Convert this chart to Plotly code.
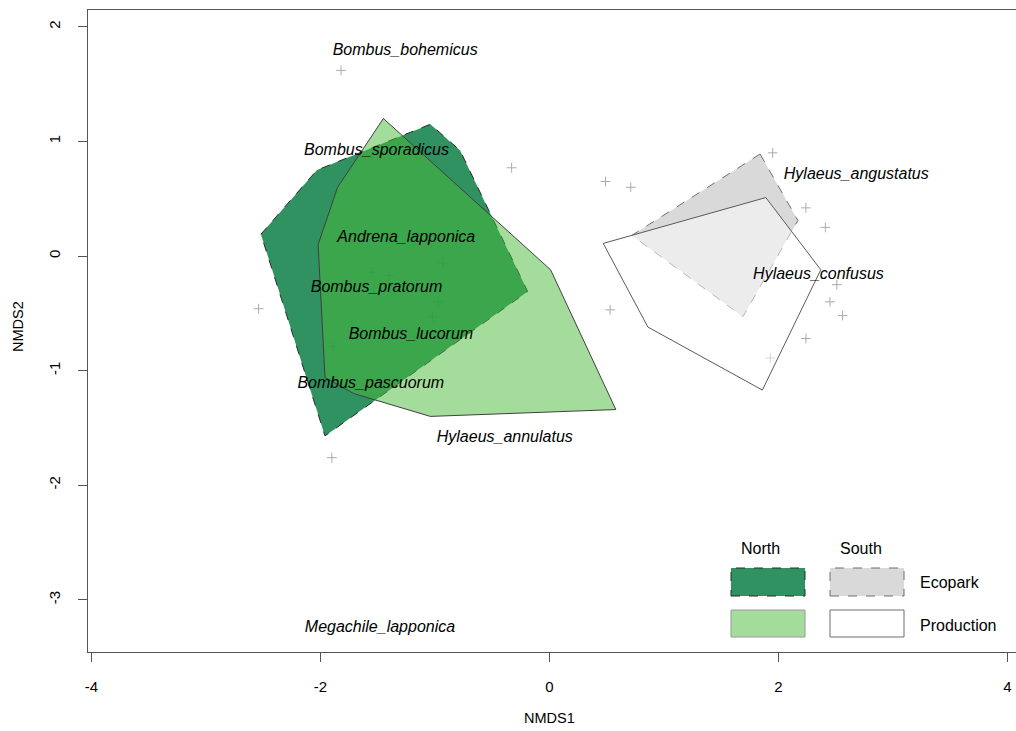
import plotly.graph_objects as go

# Species scores (NMDS1, NMDS2)
species_x = [-1.82, -0.33, -2.54, -1.90, 0.49, 0.71, 1.95, 2.24, 2.41, 1.66,
             2.51, 2.45, 2.56, 2.24, 1.93, 0.53, -1.55, -1.40, -0.93, -0.97,
             -1.02, -1.89]
species_y = [1.62, 0.77, -0.46, -1.76, 0.65, 0.60, 0.90, 0.42, 0.25, 0.13,
             -0.25, -0.40, -0.52, -0.72, -0.89, -0.47, -0.14, -0.17, -0.06, -0.40,
             -0.53, -0.79]

# Convex hulls of site scores per group
north_eco_x = [-2.52, -2.03, -1.04, -0.78, -0.19, -1.96]
north_eco_y = [0.19, 0.75, 1.15, 0.92, -0.31, -1.57]
north_prod_x = [-1.45, 0.01, 0.58, -1.04, -1.71, -1.96, -2.02, -1.85]
north_prod_y = [1.20, -0.12, -1.34, -1.40, -1.20, -1.06, 0.10, 0.60]
south_eco_x = [1.84, 2.17, 1.69, 0.72]
south_eco_y = [0.89, 0.31, -0.53, 0.18]
south_prod_x = [0.47, 1.89, 2.37, 1.86, 0.86]
south_prod_y = [0.11, 0.51, -0.12, -1.17, -0.62]

# Labelled species
label_names = ["Bombus_bohemicus", "Bombus_sporadicus", "Andrena_lapponica",
               "Bombus_pratorum", "Bombus_lucorum", "Bombus_pascuorum",
               "Hylaeus_annulatus", "Megachile_lapponica",
               "Hylaeus_angustatus", "Hylaeus_confusus"]
label_x = [-1.26, -1.51, -1.25, -1.51, -1.21, -1.56, -0.39, -1.48, 2.68, 2.35]
label_y = [1.79, 0.92, 0.16, -0.28, -0.69, -1.12, -1.59, -3.25, 0.71, -0.17]

x_ticks = [-4, -2, 0, 2, 4]
y_ticks = [-3, -2, -1, 0, 1, 2]

FONT = "Liberation Sans, Arial, Helvetica, sans-serif"

DARK_FILL = "rgba(10,127,68,0.85)"
LIGHT_FILL = "rgba(73,185,57,0.5)"
GREY_FILL = "rgb(217,217,217)"
WHITE_FILL = "rgba(255,255,255,0.5)"


def closed(v):
    return list(v) + [v[0]]


fig = go.Figure()

fig.add_trace(go.Scatter(
    x=species_x, y=species_y, mode="markers",
    marker=dict(symbol="cross-thin", size=7, line=dict(color="#ababab", width=1)),
    showlegend=False, hoverinfo="skip"))

fig.add_trace(go.Scatter(
    x=closed(north_eco_x), y=closed(north_eco_y), mode="lines", fill="toself",
    fillcolor=DARK_FILL, line=dict(color="#2b2b2b", width=1, dash="dash"),
    showlegend=False, hoverinfo="skip"))
fig.add_trace(go.Scatter(
    x=closed(north_prod_x), y=closed(north_prod_y), mode="lines", fill="toself",
    fillcolor=LIGHT_FILL, line=dict(color="#404040", width=1),
    showlegend=False, hoverinfo="skip"))
fig.add_trace(go.Scatter(
    x=closed(south_eco_x), y=closed(south_eco_y), mode="lines", fill="toself",
    fillcolor=GREY_FILL, line=dict(color="#6e6e6e", width=1, dash="dash"),
    showlegend=False, hoverinfo="skip"))
fig.add_trace(go.Scatter(
    x=closed(south_prod_x), y=closed(south_prod_y), mode="lines", fill="toself",
    fillcolor=WHITE_FILL, line=dict(color="#5a5a5a", width=1),
    showlegend=False, hoverinfo="skip"))

fig.add_trace(go.Scatter(
    x=label_x, y=label_y, mode="text", text=label_names,
    textfont=dict(family=FONT, size=16, color="black", style="italic"),
    textposition="middle center", showlegend=False, hoverinfo="skip"))

# Legend panel built from shapes and text (paper coordinates)
PL, PR, PT, PB = 88, 1016, 10, 652


def px(xp):
    return (xp - PL) / (PR - PL)


def py(yp):
    return (PB - yp) / (PB - PT)


legend_boxes = [
    (731, 805, 568, 596, "rgb(47,146,96)", "#2b2b2b", "dash"),
    (830, 904, 568, 596, GREY_FILL, "#6e6e6e", "dash"),
    (731, 805, 610, 637, "rgb(164,220,156)", "#9a9a9a", "solid"),
    (830, 904, 610, 637, "white", "#6e6e6e", "solid"),
]
for x0, x1, y0, y1, fc, lc, dash in legend_boxes:
    fig.add_shape(type="rect", xref="paper", yref="paper",
                  x0=px(x0), x1=px(x1), y0=py(y1), y1=py(y0),
                  fillcolor=fc, line=dict(color=lc, width=1, dash=dash),
                  layer="above")

legend_texts = [
    ("North", 760, 548, "center"),
    ("South", 861, 548, "center"),
    ("Ecopark", 918, 582, "left"),
    ("Production", 918, 625, "left"),
]
for t, xx, yy, anc in legend_texts:
    fig.add_annotation(text=t, xref="paper", yref="paper", x=px(xx), y=py(yy),
                       xanchor=anc, yanchor="middle", showarrow=False,
                       font=dict(family=FONT, size=16, color="black"))

# Axis titles
fig.add_annotation(text="NMDS1", xref="paper", yref="paper", x=px(549), y=py(718),
                   xanchor="center", yanchor="middle", showarrow=False,
                   font=dict(family=FONT, size=14.5, color="black"))
fig.add_annotation(text="NMDS2", xref="paper", yref="paper", x=px(18), y=py(327),
                   xanchor="center", yanchor="middle", showarrow=False, textangle=-90,
                   font=dict(family=FONT, size=14.5, color="black"))

fig.update_layout(
    width=1016, height=731,
    margin=dict(l=PL, r=1016 - PR, t=PT, b=731 - PB),
    paper_bgcolor="white", plot_bgcolor="white",
    font=dict(family=FONT, size=15, color="black"),
    showlegend=False,
    xaxis=dict(range=[-4.03, 4.075], tickvals=x_ticks, ticktext=[str(v) for v in x_ticks],
               showgrid=False, zeroline=False, showline=True, mirror=True,
               linecolor="#555555", linewidth=1, ticks="outside", ticklen=9,
               tickcolor="#555555", ticklabelstandoff=12,
               tickfont=dict(family=FONT, size=15)),
    yaxis=dict(range=[-3.456, 2.147], tickvals=y_ticks, ticktext=[str(v) for v in y_ticks],
               showgrid=False, zeroline=False, showline=True, mirror=False,
               linecolor="#555555", linewidth=1, ticks="outside", ticklen=9,
               tickcolor="#555555", tickangle=-90, ticklabelstandoff=12,
               tickfont=dict(family=FONT, size=15)),
)

fig.write_html("out.html")
